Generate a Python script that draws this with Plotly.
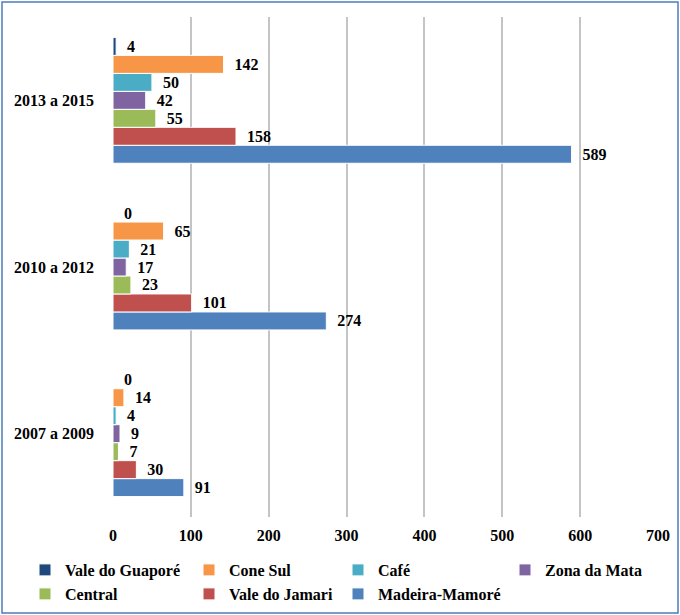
import plotly.graph_objects as go

categories = ["2007 a 2009", "2010 a 2012", "2013 a 2015"]
series_names = ["Vale do Guaporé", "Cone Sul", "Café", "Zona da Mata",
                "Central", "Vale do Jamari", "Madeira-Mamoré"]
vale_do_guapore = [0, 0, 4]
cone_sul = [14, 65, 142]
cafe = [4, 21, 50]
zona_da_mata = [9, 17, 42]
central = [7, 23, 55]
vale_do_jamari = [30, 101, 158]
madeira_mamore = [91, 274, 589]
series_values = [vale_do_guapore, cone_sul, cafe, zona_da_mata,
                 central, vale_do_jamari, madeira_mamore]
colors = ["#1F497D", "#F79646", "#4BACC6", "#8064A2",
          "#9BBB59", "#C0504D", "#4F81BD"]
x_ticks = [0, 100, 200, 300, 400, 500, 600, 700]

FONT = "Liberation Serif, Times New Roman, Tinos, serif"

L, R, T, B = 113, 22, 17, 98
W, H = 680, 615
pw, ph = W - L - R, H - T - B

# legend entry text starts (px) and row centres (px)
legend_pos = [(65, 570), (229, 570), (378, 570), (545, 570),
              (65, 594), (229, 594), (378, 594)]

fig = go.Figure()
for i in reversed(range(len(series_names))):
    lid = "legend" if i == 0 else f"legend{i + 1}"
    fig.add_trace(go.Bar(
        name=series_names[i], y=categories, x=series_values[i], orientation="h",
        marker=dict(color=colors[i], line=dict(color="white", width=1)),
        text=series_values[i], texttemplate="\u00a0\u00a0%{text}",
        textposition="outside",
        textfont=dict(family=FONT, size=16, color="black", weight="bold"),
        cliponaxis=False, legend=lid,
    ))

legends = {}
for i, (tx, ty) in enumerate(legend_pos):
    lid = "legend" if i == 0 else f"legend{i + 1}"
    legends[lid] = dict(
        x=(tx - 40 - L) / pw, xanchor="left",
        y=-(ty - (T + ph)) / ph, yanchor="middle",
        bgcolor="rgba(0,0,0,0)", borderwidth=0,
        font=dict(family=FONT, size=16, color="black", weight="bold"),
        itemclick=False, itemdoubleclick=False,
    )

fig.update_layout(
    width=W, height=H,
    margin=dict(l=L, r=R, t=T, b=B, autoexpand=False),
    barmode="group", bargap=0.245, bargroupgap=0,
    plot_bgcolor="white", paper_bgcolor="white",
    font=dict(family=FONT, size=15, color="black"),
    xaxis=dict(range=[0, 700], tickvals=x_ticks, showgrid=True,
               gridcolor="#c4c4c4", gridwidth=1.5, zeroline=False,
               showline=False, ticks="", ticklabelstandoff=7,
               tickfont=dict(family=FONT, size=16, color="black", weight="bold")),
    yaxis=dict(categoryorder="array", categoryarray=categories,
               showgrid=False, zeroline=False, showline=False, ticks="",
               ticklabelstandoff=18,
               tickfont=dict(family=FONT, size=16, color="black", weight="bold")),
    showlegend=True,
    shapes=[dict(type="rect", xref="paper", yref="paper",
                 x0=(2 - L) / pw, x1=(678 - L) / pw,
                 y0=-(613 - (T + ph)) / ph, y1=1 + (T - 2) / ph,
                 line=dict(color="#4A7EBB", width=1.5), fillcolor="rgba(0,0,0,0)",
                 layer="below")],
    **legends,
)

fig.write_html("out.html", config={"displayModeBar": False},
               post_script="document.body.style.margin='0';document.body.style.overflow='hidden';")
